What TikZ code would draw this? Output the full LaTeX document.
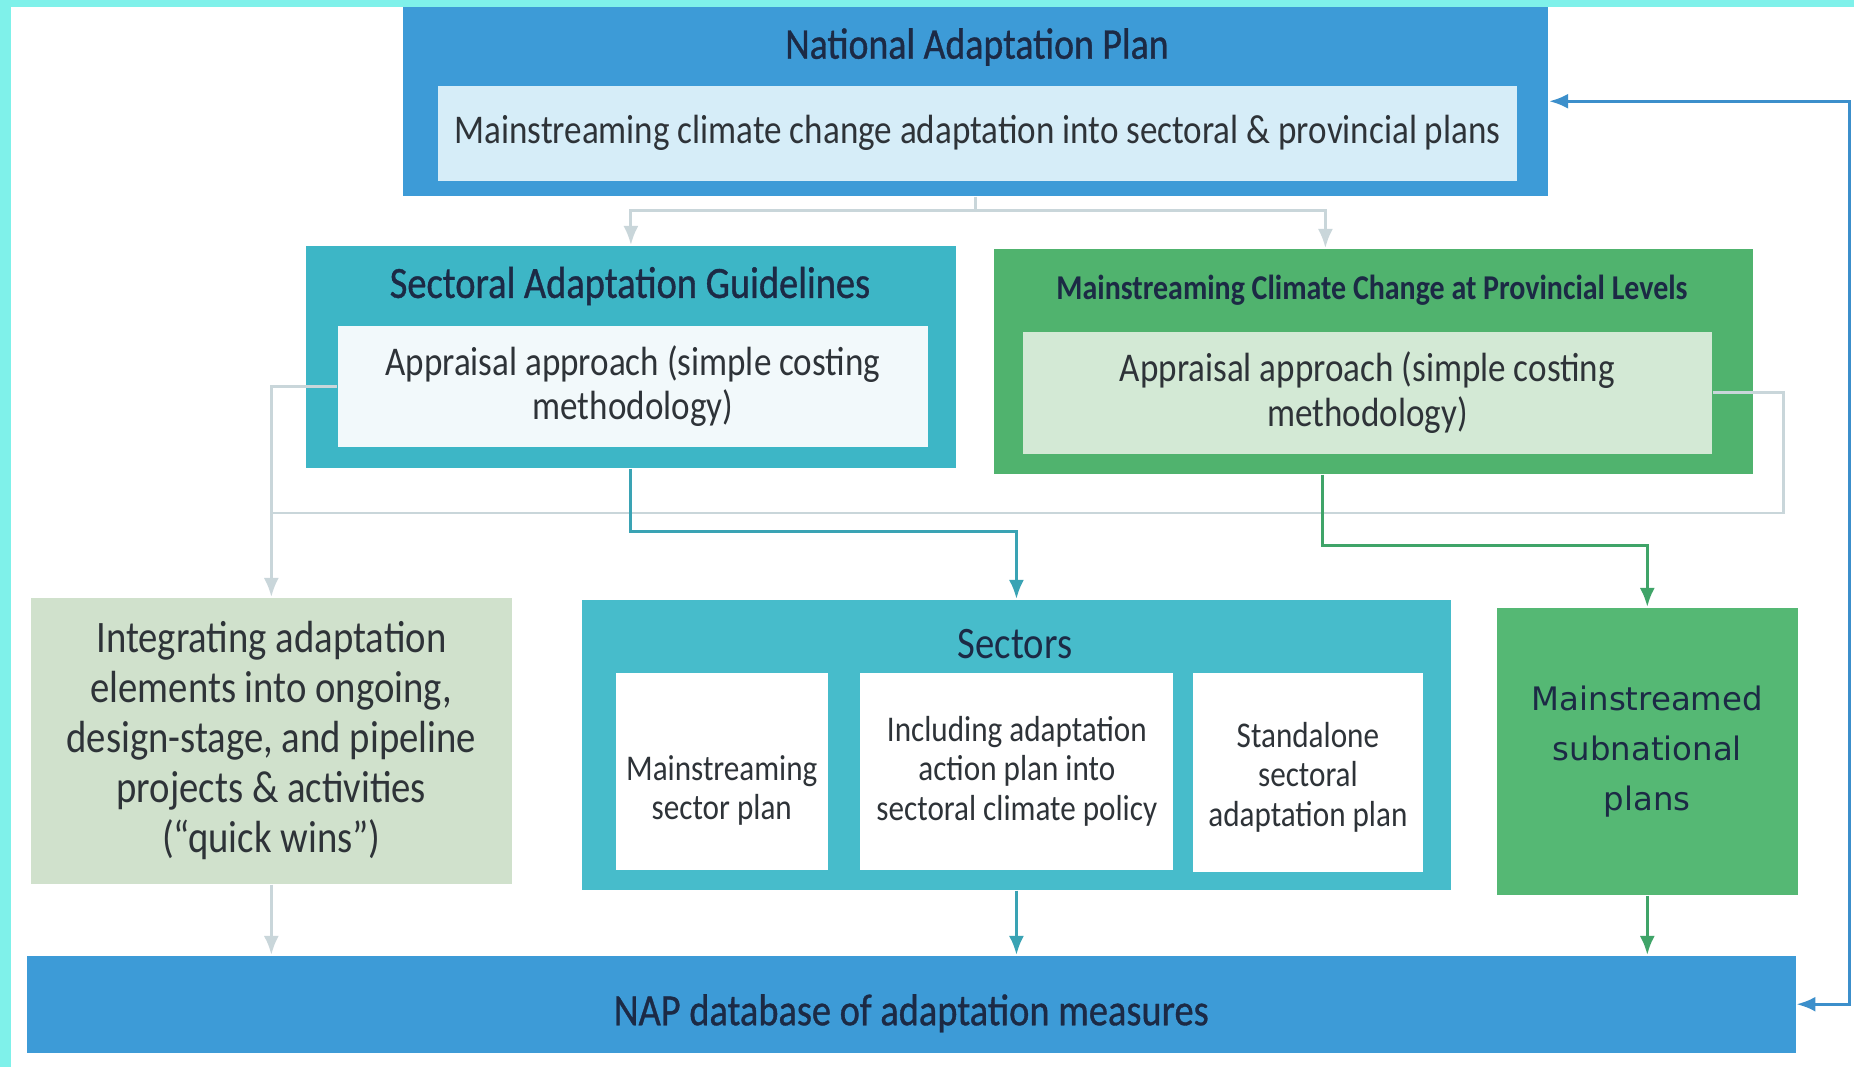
\documentclass[tikz,border=0pt]{standalone}
\usepackage{fontspec}
\setmainfont{Carlito}[FakeStretch=0.86]
\newfontfamily\titlefont{Carlito}[FakeStretch=0.86,FakeBold=0.8]
\newfontfamily\widefont{DejaVu Sans}
\usetikzlibrary{arrows.meta,positioning}

\definecolor{napblue}{HTML}{3D9BD7}
\definecolor{napinner}{HTML}{D6EDF8}
\definecolor{sagteal}{HTML}{3DB6C6}
\definecolor{saginner}{HTML}{F2F9FB}
\definecolor{provgreen}{HTML}{50B36E}
\definecolor{provinner}{HTML}{D3E9D5}
\definecolor{integfill}{HTML}{D0E1CC}
\definecolor{sectteal}{HTML}{47BCCB}
\definecolor{subgreen}{HTML}{55B874}
\definecolor{textnavy}{HTML}{1C2A45}
\definecolor{textgray}{HTML}{2E3338}
\definecolor{graylink}{HTML}{C9D6DA}
\definecolor{teallink}{HTML}{3AA3B4}
\definecolor{greenlink}{HTML}{3FA468}
\definecolor{bluelink}{HTML}{3C8FCB}
\definecolor{scanedge}{HTML}{7FF1EA}

\begin{document}
\begin{tikzpicture}[x=0.01cm,y=-0.01cm,>={Latex[length=1.9mm,width=1.5mm]},
                    outer box/.style={rectangle,inner sep=0pt,anchor=north west},
                    inner box/.style={rectangle,inner sep=0pt,anchor=north west,align=center,
                                      text=textgray,font=\fontsize{11.6}{12.6}\selectfont},
                    title/.style={text=textnavy,inner sep=0pt},
                    link/.style={->,line width=0.9pt}]
  \useasboundingbox[fill=white] (0,0) rectangle (1854,1067);
  \fill[scanedge] (0,0) rectangle (1854,7);
  \fill[scanedge] (0,0) rectangle (11,1067);

  % top level
  \node[outer box,fill=napblue,minimum width=11.45cm,minimum height=1.89cm] (nap) at (402,6) {};
  \node[title,font=\titlefont\fontsize{12.5}{14}\selectfont] (naptitle) at (977,47) {National Adaptation Plan};
  \node[inner box,fill=napinner,minimum width=10.79cm,minimum height=0.95cm] (napin) at (437,85)
    {Mainstreaming climate change adaptation into sectoral \& provincial plans};

  % guidelines
  \node[outer box,fill=sagteal,minimum width=6.50cm,minimum height=2.22cm] (sag) at (305,245) {};
  \node[title,font=\titlefont\fontsize{12.7}{14}\selectfont] (sagtitle) at (630,286) {Sectoral Adaptation Guidelines};
  \node[inner box,fill=saginner,minimum width=5.90cm,minimum height=1.21cm] (sagin) at (337,325)
    {Appraisal approach (simple costing\\methodology)};

  \node[outer box,fill=provgreen,minimum width=7.59cm,minimum height=2.25cm] (prov) at (993,248) {};
  \node[title,font=\bfseries\fontsize{9.9}{12}\selectfont] (provtitle) at (1372,290)
    {Mainstreaming Climate Change at Provincial Levels};
  \node[inner box,fill=provinner,minimum width=6.89cm,minimum height=1.22cm] (provin) at (1022,331)
    {Appraisal approach (simple costing\\methodology)};

  % third row
  \node[inner box,fill=integfill,minimum width=4.81cm,minimum height=2.86cm,
        font=\fontsize{12.8}{14.2}\selectfont] (integ) at (30,597)
    {Integrating adaptation\\elements into ongoing,\\design-stage, and pipeline\\projects \& activities\\(``quick wins'')};

  \node[outer box,fill=sectteal,minimum width=8.69cm,minimum height=2.90cm] (sect) at (581,599) {};
  \node[title,font=\fontsize{12.8}{14}\selectfont] (secttitle) at (1015,644) {Sectors};
  \node[inner box,fill=white,minimum width=2.12cm,minimum height=1.97cm,
        font=\fontsize{10.3}{11.2}\selectfont] (sub1) at (615,672)
    {\rule{0pt}{18pt}Mainstreaming\\sector plan};
  \node[inner box,fill=white,minimum width=3.13cm,minimum height=1.97cm,
        font=\fontsize{10.3}{11.2}\selectfont,right=0.31cm of sub1.north east,anchor=north west] (sub2)
    {Including adaptation\\action plan into\\sectoral climate policy};
  \node[inner box,fill=white,minimum width=2.30cm,minimum height=1.99cm,
        font=\fontsize{10.3}{11.2}\selectfont,right=0.18cm of sub2.north east,anchor=north west] (sub3)
    {\rule{0pt}{10pt}Standalone\\sectoral\\adaptation plan};

  \node[inner box,fill=subgreen,minimum width=3.01cm,minimum height=2.87cm,text=textnavy,
        font=\widefont\fontsize{9.2}{14.2}\selectfont] (subnat) at (1496,607)
    {Mainstreamed\\subnational\\plans};

  % database
  \node[inner box,fill=napblue,minimum width=17.68cm,minimum height=0.97cm,text=textnavy,
        font=\titlefont\fontsize{12.7}{14}\selectfont] (db) at (26,955)
    {\rule{0pt}{14pt}NAP database of adaptation measures};

  % connectors
  \draw[graylink,line width=0.8pt] (nap.south) -- ++(0,14) coordinate (split);
  \draw[link,graylink,line width=0.8pt] (split) -| (sag.north);
  \draw[link,graylink,line width=0.8pt] (split) -| ([xshift=-0.48cm]prov.north);
  \draw[link,graylink,line width=0.8pt] (sagin.west) -| (integ.north);
  \coordinate (graymeet) at (integ.north |- 0,513);
  \draw[graylink,line width=0.8pt] (provin.east) -- ++(71,0) |- (graymeet);
  \draw[link,teallink] (sag.south) -- ++(0,63) -| (sect.north);
  \draw[link,greenlink] ([xshift=-0.51cm]prov.south) -- ++(0,71) -| (subnat.north);
  \draw[link,graylink] (integ.south) -- (integ.south |- db.north);
  \draw[link,teallink] (sect.south) -- (sect.south |- db.north);
  \draw[link,greenlink] (subnat.south) -- (subnat.south |- db.north);
  \draw[<->,bluelink,line width=0.9pt] (db.east) -- ++(53,0) |- (nap.east);
\end{tikzpicture}
\end{document}
